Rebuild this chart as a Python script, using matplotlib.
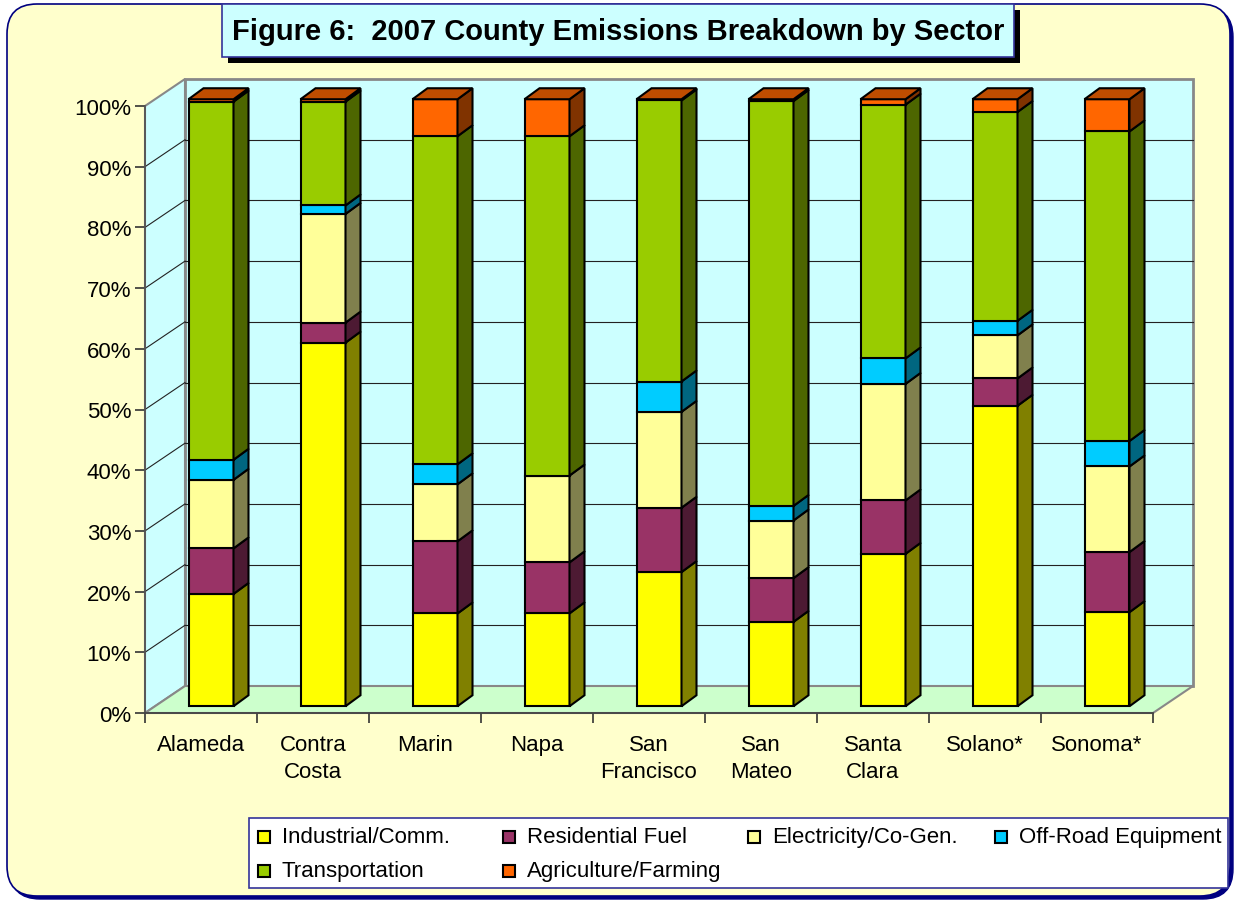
import numpy as np
import matplotlib
matplotlib.use('Agg')
import matplotlib.pyplot as plt
from matplotlib.patches import Polygon, Rectangle, FancyBboxPatch
from matplotlib.ticker import PercentFormatter, FixedLocator
from matplotlib.colors import to_rgb

plt.rcParams['font.family'] = ['Liberation Sans', 'DejaVu Sans']

# data (share of county emissions, %)
counties = ['Alameda', 'Contra\nCosta', 'Marin', 'Napa', 'San\nFrancisco',
            'San\nMateo', 'Santa\nClara', 'Solano*', 'Sonoma*']
sectors = ['Industrial/Comm.', 'Residential Fuel', 'Electricity/Co-Gen.',
           'Off-Road Equipment', 'Transportation', 'Agriculture/Farming']
industrial = [18.5, 59.9, 15.3, 15.3, 22.1, 13.9, 25.1, 49.5, 15.5]
residential = [7.5, 3.3, 11.9, 8.4, 10.6, 7.2, 8.8, 4.5, 9.9]
electricity = [11.3, 17.9, 9.4, 14.3, 15.8, 9.5, 19.2, 7.1, 14.1]
offroad = [3.3, 1.4, 3.3, 0.0, 5.0, 2.4, 4.2, 2.4, 4.2]
transportation = [59.0, 17.1, 54.1, 55.9, 46.3, 66.7, 41.8, 34.4, 51.0]
agriculture = [0.4, 0.4, 6.1, 6.1, 0.2, 0.3, 0.9, 2.1, 5.3]
colors = ['#FFFF00', '#993366', '#FFFF99', '#00CCFF', '#99CC00', '#FF6600']

series = np.array([industrial, residential, electricity, offroad,
                   transportation, agriculture])
series = series / series.sum(axis=0) * 100


def shade(c, f):
    return tuple(v * f for v in to_rgb(c))


W, H = 1235, 904
fig = plt.figure(figsize=(W / 100, H / 100), dpi=100)
fig.patch.set_facecolor('white')

# background / decoration layer in pixel units
bg = fig.add_axes([0, 0, 1, 1], zorder=0)
bg.set_xlim(0, W)
bg.set_ylim(H, 0)
bg.axis('off')

bg.add_patch(FancyBboxPatch((10, 8), 1223, 892, boxstyle='round,pad=0,rounding_size=30',
                            facecolor='#000080', edgecolor='#000080', lw=1))
bg.add_patch(FancyBboxPatch((7, 5), 1223, 892, boxstyle='round,pad=0,rounding_size=30',
                            facecolor='#FFFFCC', edgecolor='#000080', lw=1.2))

# title box
bg.add_patch(Rectangle((228, 11), 792, 53, facecolor='black', edgecolor='none'))
bg.add_patch(Rectangle((222, 5), 792, 53, facecolor='#CCFFFF', edgecolor='#333399', lw=1.2))
bg.text(618, 32, 'Figure 6:  2007 County Emissions Breakdown by Sector',
        ha='center', va='center', fontsize=21, fontweight='bold')

# legend
bg.add_patch(Rectangle((249, 819), 979, 70, facecolor='white', edgecolor='#333399', lw=1.2))
leg_x = [258, 503, 748, 995]
leg_y = [838, 872]
for k, name in enumerate(sectors):
    cx = leg_x[k % 4]
    cy = leg_y[k // 4]
    bg.add_patch(Rectangle((cx, cy - 6), 12, 12, facecolor=colors[k],
                           edgecolor='black', lw=1.5))
    bg.text(cx + 24, cy, name, ha='left', va='center', fontsize=16)

# main chart: front plane of the 3d box
left, right, bottom, top = 145, 1153, 714, 107
ax = fig.add_axes([left / W, (H - bottom) / H, (right - left) / W, (bottom - top) / H], zorder=1)
ax.patch.set_visible(False)
ax.set_xlim(-0.5, len(counties) - 0.5)
ax.set_ylim(0, 100)

px_x = (right - left) / len(counties)
px_y = (bottom - top) / 100.0
DX, DY = 40 / px_x, 27 / px_y          # wall depth
fx, fy = 0.25 * DX, 0.25 * DY          # bar front face depth
sx, sy = 15 / px_x, 11 / px_y          # bar depth
bw = 45 / px_x

x0, x1 = -0.5, len(counties) - 0.5
wall = '#CCFFFF'
edge = '#888888'
ax.add_patch(Polygon([(x0 + DX, DY), (x1 + DX, DY), (x1 + DX, 100 + DY), (x0 + DX, 100 + DY)],
                     closed=True, facecolor=wall, edgecolor=edge, lw=2, clip_on=False, zorder=0))
ax.add_patch(Polygon([(x0, 0), (x0 + DX, DY), (x0 + DX, 100 + DY), (x0, 100)],
                     closed=True, facecolor=wall, edgecolor=edge, lw=1.5, clip_on=False, zorder=0))
ax.add_patch(Polygon([(x0, 0), (x1, 0), (x1 + DX, DY), (x0 + DX, DY)],
                     closed=True, facecolor='#CCFFCC', edgecolor=edge, lw=1.5, clip_on=False, zorder=0))
for v in range(10, 100, 10):
    ax.plot([x0 + DX, x1 + DX], [v + DY, v + DY], color='#222222', lw=0.8, clip_on=False, zorder=0.5)
    ax.plot([x0, x0 + DX], [v, v + DY], color='#222222', lw=0.8, clip_on=False, zorder=0.5)

# stacked 3d columns
for i in range(len(counties)):
    cum = 0.0
    xc = i + fx
    xl, xr = xc - bw / 2, xc + bw / 2
    last = None
    for k in range(len(sectors)):
        v = series[k, i]
        if v <= 0:
            continue
        b, t = cum + fy, cum + v + fy
        ax.bar(xc, v, bottom=b, width=bw, color=colors[k], edgecolor='black',
               lw=1.5, zorder=3, clip_on=False)
        ax.add_patch(Polygon([(xr, b), (xr + sx, b + sy), (xr + sx, t + sy), (xr, t)],
                             closed=True, facecolor=shade(colors[k], 0.5), edgecolor='black',
                             lw=1.5, zorder=3, clip_on=False))
        cum += v
        last = k
    T = cum + fy
    ax.add_patch(Polygon([(xl, T), (xr, T), (xr + sx, T + sy), (xl + sx, T + sy)],
                         closed=True, facecolor=shade(colors[last], 0.75), edgecolor='black',
                         lw=1.5, zorder=3, clip_on=False))

# axes
for s in ['top', 'right']:
    ax.spines[s].set_visible(False)
ax.spines['left'].set_color('#555555')
ax.spines['bottom'].set_color('#444444')
ax.spines['left'].set_linewidth(1.3)
ax.spines['bottom'].set_linewidth(1.3)

ax.set_yticks(range(0, 101, 10))
ax.yaxis.set_major_formatter(PercentFormatter(xmax=100, decimals=0))
ax.tick_params(axis='y', length=7, width=1.2, color='#333333', pad=3, labelsize=16)

ax.xaxis.set_major_locator(FixedLocator(np.arange(-0.5, len(counties), 1.0)))
ax.set_xticklabels([])
ax.set_xticks(range(len(counties)), minor=True)
ax.set_xticklabels(counties, minor=True, fontsize=16, linespacing=1.38)
ax.tick_params(axis='x', which='minor', length=0, pad=15)
ax.tick_params(axis='x', which='major', length=7, width=1.2, color='#333333')

fig.savefig('out.png', dpi=100)
